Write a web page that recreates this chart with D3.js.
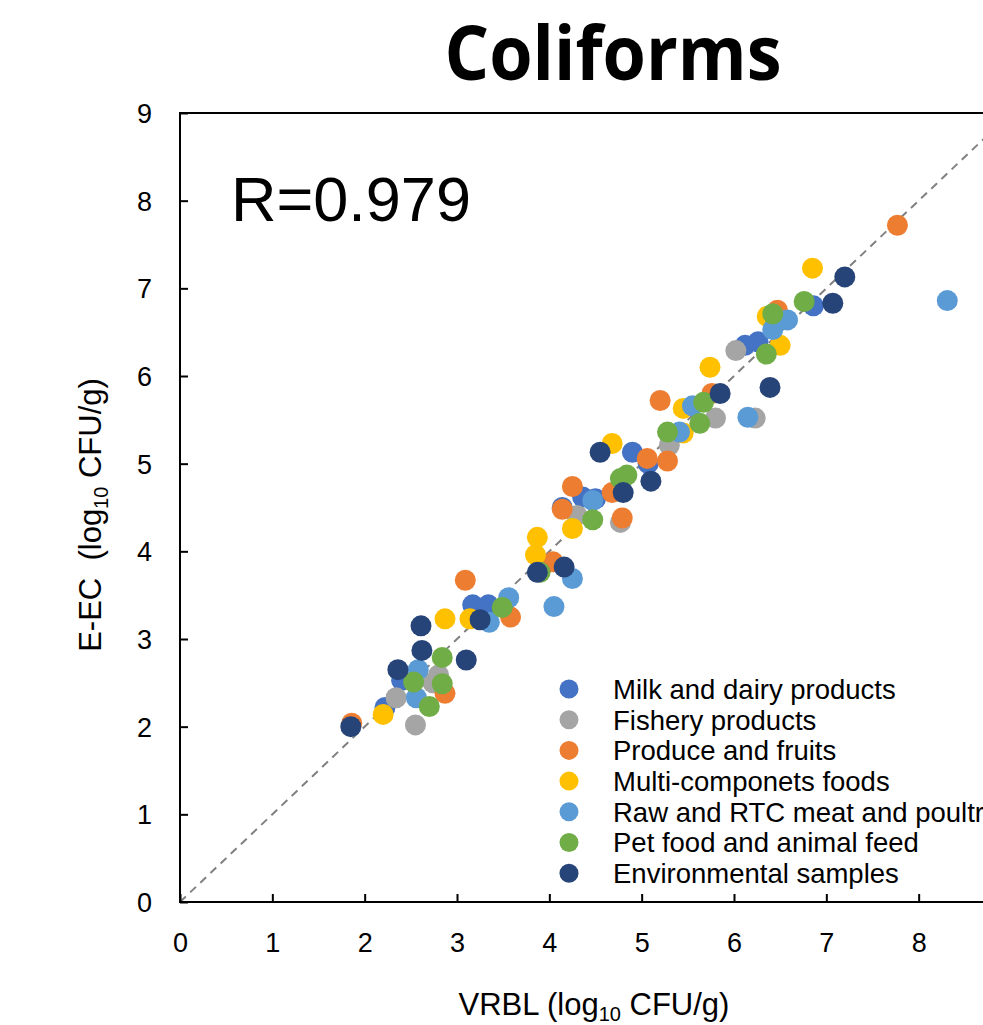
<!DOCTYPE html>
<html>
<head>
<meta charset="utf-8">
<script src="https://cdn.jsdelivr.net/npm/d3@7"></script>
<style>
  html, body { margin: 0; padding: 0; background: #fff; }
  svg { display: block; font-family: "Liberation Sans", Arial, sans-serif; }
</style>
</head>
<body>
<div id="chart"></div>
<script>
// categories and colours (Excel palette)
const categories = [
    'Milk and dairy products',
    'Fishery products',
    'Produce and fruits',
    'Multi-componets foods',
    'Raw and RTC meat and poultry',
    'Pet food and animal feed',
    'Environmental samples'
];
const colors = ['#4472C4', '#A5A5A5', '#ED7D31', '#FFC000', '#5B9BD5', '#70AD47', '#264478'];

// [VRBL, E-EC] in log10 CFU/g
const milk = [[2.22, 2.22], [2.40, 2.53], [3.17, 3.39], [3.34, 3.39], [4.14, 4.50], [4.36, 4.62],
    [4.50, 4.60], [4.90, 5.13], [5.07, 5.00], [6.12, 6.35], [6.26, 6.39], [6.86, 6.80]];
const fishery = [[2.34, 2.33], [2.55, 2.02], [2.80, 2.59], [2.74, 2.50], [4.30, 4.41], [4.77, 4.33],
    [5.30, 5.21], [5.80, 5.52], [6.02, 6.29], [6.23, 5.52]];
const produce = [[1.86, 2.04], [2.87, 2.38], [3.09, 3.67], [3.58, 3.25], [4.04, 3.88], [4.25, 4.74],
    [4.14, 4.48], [4.79, 4.38], [4.68, 4.67], [5.06, 5.06], [5.28, 5.03], [5.20, 5.72], [5.76, 5.80],
    [6.47, 6.75], [7.77, 7.72]];
const multi = [[2.20, 2.14], [2.87, 3.23], [3.14, 3.23], [3.85, 3.96], [3.87, 4.16], [4.25, 4.26],
    [4.68, 5.23], [5.45, 5.63], [5.45, 5.35], [5.74, 6.10], [6.36, 6.68], [6.50, 6.35], [6.85, 7.23]];
const rawMeat = [[2.58, 2.65], [2.56, 2.33], [3.35, 3.19], [3.56, 3.47], [4.05, 3.37], [4.25, 3.69],
    [4.47, 4.58], [5.41, 5.36], [5.55, 5.66], [6.15, 5.53], [6.42, 6.53], [6.58, 6.64], [8.31, 6.86]];
const petFood = [[2.53, 2.51], [2.70, 2.23], [2.84, 2.79], [2.84, 2.49], [3.49, 3.36], [3.90, 3.76],
    [4.47, 4.36], [4.77, 4.83], [4.84, 4.87], [5.28, 5.36], [5.63, 5.46], [5.67, 5.70], [6.35, 6.25],
    [6.42, 6.71], [6.76, 6.85]];
const environmental = [[1.85, 2.00], [2.36, 2.65], [2.61, 3.15], [2.62, 2.87], [3.10, 2.76], [3.25, 3.22],
    [3.87, 3.76], [4.16, 3.82], [4.55, 5.13], [4.80, 4.67], [5.10, 4.80], [5.85, 5.80], [6.39, 5.87],
    [7.07, 6.83], [7.20, 7.13]];

const seriesValues = [milk, fishery, produce, multi, rawMeat, petFood, environmental];
const ticks = [0, 1, 2, 3, 4, 5, 6, 7, 8, 9];

const width = 983, height = 1025;
const svg = d3.select('#chart').append('svg')
    .attr('width', width)
    .attr('height', height);

const x = d3.scaleLinear().domain([0, 9]).range([180, 1011]);
const y = d3.scaleLinear().domain([0, 9]).range([902, 113]);

// title
svg.append('text')
    .attr('x', 613).attr('y', 80)
    .attr('text-anchor', 'middle')
    .attr('textLength', 337)
    .attr('lengthAdjust', 'spacingAndGlyphs')
    .style('font-family', '"Open Sans", sans-serif')
    .style('font-weight', 'bold')
    .style('font-size', '76px')
    .text('Coliforms');

// 1:1 line
svg.append('line')
    .attr('x1', x(0)).attr('y1', y(0))
    .attr('x2', x(9)).attr('y2', y(9))
    .attr('stroke', '#808080')
    .attr('stroke-width', 2)
    .attr('stroke-dasharray', '8,6');

// axes, ticks point inward
const xAxis = svg.append('g')
    .attr('transform', `translate(0,${y(0)})`)
    .call(d3.axisBottom(x).tickValues(ticks.slice(0, 9)).tickSize(-8).tickPadding(28));
const yAxis = svg.append('g')
    .attr('transform', `translate(${x(0)},0)`)
    .call(d3.axisLeft(y).tickValues(ticks).tickSize(-8).tickPadding(28));

[xAxis, yAxis].forEach(a => {
    a.select('.domain').remove();
    a.selectAll('line').attr('stroke', '#000').attr('stroke-width', 2);
    a.selectAll('text')
        .style('font-family', '"Liberation Sans", Arial, sans-serif')
        .style('font-size', '27px')
        .attr('fill', '#000');
});
xAxis.selectAll('text').attr('dy', '0.82em');
yAxis.selectAll('text').attr('dy', '0.35em');

// plot frame
svg.append('rect')
    .attr('x', x(0)).attr('y', y(9))
    .attr('width', x(9) - x(0)).attr('height', y(0) - y(9))
    .attr('fill', 'none')
    .attr('stroke', '#000')
    .attr('stroke-width', 2);

// points, later series on top
const groups = svg.append('g').classed('points', true)
    .selectAll('g')
    .data(seriesValues)
    .join('g')
    .attr('fill', (d, i) => colors[i]);

groups.selectAll('circle')
    .data(d => d)
    .join('circle')
    .attr('cx', d => x(d[0]))
    .attr('cy', d => y(d[1]))
    .attr('r', 10.5);

// correlation label
svg.append('text')
    .attr('x', 231).attr('y', 221)
    .style('font-size', '63px')
    .text('R=0.979');

// legend
const legend = svg.append('g')
    .selectAll('g')
    .data(categories)
    .join('g')
    .attr('transform', (d, i) => `translate(569,${689 + i * 30.7})`);
legend.append('circle')
    .attr('r', 9.5)
    .attr('fill', (d, i) => colors[i]);
legend.append('text')
    .attr('x', 44)
    .attr('dy', '0.36em')
    .style('font-size', '27.5px')
    .text(d => d);

// axis titles
const xt = svg.append('text')
    .attr('x', 594).attr('y', 1015)
    .attr('text-anchor', 'middle')
    .style('font-size', '31px');
xt.append('tspan').text('VRBL (log');
xt.append('tspan').attr('dy', 6).style('font-size', '20px').text('10');
xt.append('tspan').attr('dy', -6).text(' CFU/g)');

const yt = svg.append('text')
    .attr('transform', 'translate(101,515) rotate(-90)')
    .attr('text-anchor', 'middle')
    .style('font-size', '31px')
    .attr('xml:space', 'preserve');
yt.append('tspan').text('E-EC  (log');
yt.append('tspan').attr('dy', 7).style('font-size', '20px').text('10');
yt.append('tspan').attr('dy', -7).text(' CFU/g)');
</script>
</body>
</html>
